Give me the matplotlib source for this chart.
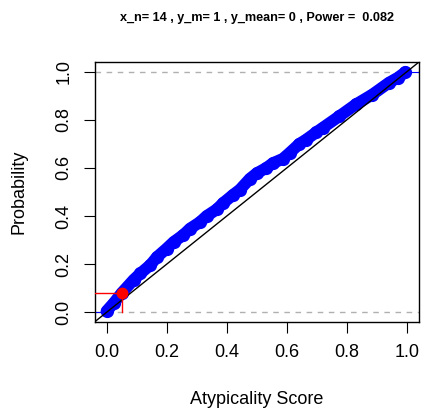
import matplotlib
matplotlib.use("Agg")
import matplotlib.pyplot as plt

plt.rcParams['font.family'] = ['Liberation Sans', 'DejaVu Sans']

score = [0.0, 0.025, 0.05, 0.09, 0.113, 0.146, 0.168, 0.20, 0.223, 0.256,
         0.278, 0.311, 0.333, 0.367, 0.388, 0.42, 0.444, 0.477, 0.50, 0.532,
         0.554, 0.587, 0.609, 0.642, 0.665, 0.698, 0.72, 0.775, 0.83, 0.885,
         0.94, 0.97, 0.995]
prob = [0.005, 0.04, 0.08, 0.135, 0.162, 0.197, 0.23, 0.265, 0.292, 0.322,
        0.348, 0.375, 0.40, 0.428, 0.454, 0.487, 0.51, 0.555, 0.578, 0.60,
        0.62, 0.638, 0.662, 0.70, 0.718, 0.748, 0.767, 0.815, 0.864, 0.905,
        0.954, 0.975, 0.998]

alpha = 0.05
power = 0.082
x_n, y_m, y_mean = 14, 1, 0

xticks = [0.0, 0.2, 0.4, 0.6, 0.8, 1.0]
yticks = [0.0, 0.2, 0.4, 0.6, 0.8, 1.0]

W, H = 425, 412
fig = plt.figure(figsize=(W / 100, H / 100), dpi=100)
ax = fig.add_axes([94.5 / W, 1 - 322 / H, (419 - 94.5) / W, (322 - 62) / H])
lo, hi = -0.04, 1.04
ax.set_xlim(lo, hi)
ax.set_ylim(lo, hi)

# reference lines
ax.axhline(0, color='#b0b0b0', lw=1.0, ls=(0, (4, 4)), zorder=1)
ax.axhline(1, color='#b0b0b0', lw=1.0, ls=(0, (4, 4)), zorder=1)

# ECDF tails
ax.plot([lo, score[0]], [0, 0], color='blue', lw=0.8, zorder=2)
ax.plot([score[-1], hi], [1, 1], color='blue', lw=0.8, zorder=2)

# ECDF points
ax.plot(score, prob, color='blue', lw=8.5, solid_capstyle='round',
        solid_joinstyle='round', zorder=3)
ax.plot(score, prob, 'o', color='blue', ms=8.5, zorder=3)

# uniform diagonal
ax.plot([lo, hi], [lo, hi], color='black', lw=1.0, zorder=4)

# power at alpha
ax.plot([lo, alpha], [power, power], color='red', lw=1.0, zorder=5)
ax.plot([alpha, alpha], [0, power], color='red', lw=1.0, zorder=5)
ax.plot([alpha], [power], 'o', color='red', ms=7.5, zorder=6)

ax.set_xticks(xticks)
ax.set_yticks(yticks)
ax.set_xticklabels([f"{t:.1f}" for t in xticks])
ax.set_yticklabels([f"{t:.1f}" for t in yticks], rotation=90, va='center')
ax.tick_params(length=8, width=0.8, labelsize=13, pad=8)
for s in ax.spines.values():
    s.set_linewidth(1.0)

fig.text(19 / W, 1 - 192 / H, "Probability", rotation=90, fontsize=13,
         ha='center', va='center')
fig.text(257 / W, 1 - 399 / H, "Atypicality Score", fontsize=13,
         ha='center', va='center')
fig.text(257 / W, 1 - 18 / H,
         f"x_n= {x_n} , y_m= {y_m} , y_mean= {y_mean} , Power =  {power}",
         fontsize=9.1, fontweight='bold', ha='center', va='center')

fig.savefig("out.png", dpi=100)
